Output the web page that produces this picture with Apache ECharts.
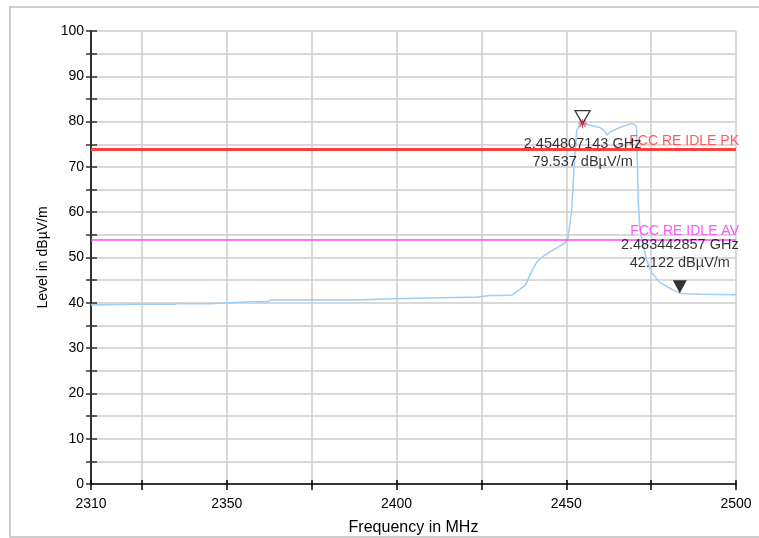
<!DOCTYPE html>
<html>
<head>
<meta charset="utf-8">
<script src="https://cdn.jsdelivr.net/npm/echarts@6/dist/echarts.min.js"></script>
<style>html,body{margin:0;padding:0;background:#fff;overflow:hidden;}#c{width:759px;height:538px;}</style>
</head>
<body>
<div id="c"></div>
<script>
const freqMHz = [2310, 2318, 2325, 2335, 2335.6, 2336.5, 2345, 2348, 2356, 2362, 2363, 2375, 2387.5, 2388, 2399.5, 2400, 2424, 2427.5, 2431, 2434, 2436, 2438, 2439.3, 2440.5, 2441.4, 2442.9, 2445, 2447.6, 2449.6, 2450.5, 2451.6, 2452.3, 2453.1, 2454.0, 2454.807143, 2457, 2459.9, 2461.2, 2462, 2462.9, 2465.8, 2468.8, 2469.7, 2470.7, 2471.2, 2471.7, 2473.7, 2475.2, 2477.7, 2481.5, 2483.442857, 2485.5, 2490, 2500];
const levelDb = [39.5, 39.6, 39.7, 39.7, 39.9, 39.8, 39.8, 39.9, 40.2, 40.3, 40.6, 40.6, 40.6, 40.9, 40.9, 41.3, 41.3, 41.6, 41.6, 41.7, 42.8, 43.9, 46.1, 48.0, 49.0, 50.1, 51.2, 52.3, 53.2, 54.3, 60.5, 70.0, 78.1, 79.2, 79.537, 79.2, 78.7, 78.0, 77.0, 77.7, 78.7, 79.5, 79.5, 79.0, 62.7, 56.0, 49.4, 46.6, 44.4, 42.8, 42.122, 42.0, 41.9, 41.8];
const limitNames = ['FCC RE IDLE PK', 'FCC RE IDLE AV'];
const limitValues = [74, 54];
const markerFreq = [2454.807143, 2483.442857];
const markerLevel = [79.537, 42.122];
const xTickValues = [2310, 2325, 2350, 2375, 2400, 2425, 2450, 2475, 2500];
const xLabelValues = [2310, 2350, 2400, 2450, 2500];

const FONT = "'Liberation Sans', Arial, sans-serif";
const chart = echarts.init(document.getElementById('c'), null, {renderer: 'canvas', width: 759, height: 538});

function mkLabel(i) {
  return (markerFreq[i] / 1000).toFixed(9) + ' GHz\n' + markerLevel[i].toFixed(3) + ' dBµV/m';
}
const asterisk = 'path://M-0.6,-5 L0.6,-5 L0.6,5 L-0.6,5 Z M-5,-0.6 L5,-0.6 L5,0.6 L-5,0.6 Z M-3.9,-3.1 L-3.1,-3.9 L3.9,3.1 L3.1,3.9 Z M3.1,-3.9 L3.9,-3.1 L-3.1,3.9 L-3.9,3.1 Z';

const option = {
  animation: false,
  backgroundColor: '#fff',
  textStyle: {fontFamily: FONT},
  graphic: [{
    type: 'rect', shape: {x: 10, y: 7, width: 760, height: 530},
    style: {fill: 'none', stroke: '#bdbdbd', lineWidth: 1.5}, z: -1
  }],
  grid: {left: 91, top: 31, width: 645, height: 453, containLabel: false, outerBoundsMode: 'none'},
  xAxis: [{
    type: 'value', min: 2310, max: 2500, position: 'bottom',
    name: 'Frequency in MHz', nameLocation: 'middle', nameGap: 36,
    nameTextStyle: {color: '#000', fontSize: 16, fontFamily: FONT},
    axisLine: {show: true, onZero: false, lineStyle: {color: '#000', width: 1.5}},
    axisTick: {show: true, length: 6, customValues: xTickValues, lineStyle: {color: '#000', width: 1.5}},
    axisLabel: {customValues: xLabelValues, color: '#000', fontSize: 14, margin: 13, fontFamily: FONT,
      formatter: v => String(v)},
    splitLine: {show: true, lineStyle: {color: '#cccccc', width: 1.5}}
  }, {
    type: 'value', min: 2310, max: 2500, position: 'bottom',
    axisLine: {show: false},
    axisTick: {show: true, inside: true, length: 4, customValues: xTickValues, lineStyle: {color: '#000', width: 1.5}},
    axisLabel: {show: false},
    splitLine: {show: false}
  }],
  yAxis: [{
    type: 'value', min: 0, max: 100, interval: 5, position: 'left',
    name: 'Level in dBµV/m', nameLocation: 'middle', nameGap: 33,
    nameTextStyle: {color: '#000', fontSize: 14, fontFamily: FONT},
    axisLine: {show: true, onZero: false, lineStyle: {color: '#333', width: 2}},
    axisTick: {show: true, length: 5, lineStyle: {color: '#333', width: 1.5}},
    axisLabel: {color: '#000', fontSize: 14, margin: 7, fontFamily: FONT,
      formatter: v => (v % 10 === 0 ? String(v) : '')},
    splitLine: {show: true, lineStyle: {color: '#cccccc', width: 1.5}}
  }, {
    type: 'value', min: 0, max: 100, interval: 5, position: 'left',
    axisLine: {show: false},
    axisTick: {show: true, inside: true, length: 6, lineStyle: {color: '#333', width: 1.5}},
    axisLabel: {show: false},
    splitLine: {show: false}
  }],
  series: [
    {
      type: 'line', name: 'trace', xAxisIndex: 0, yAxisIndex: 0,
      data: freqMHz.map((f, i) => [f, levelDb[i]]),
      showSymbol: false, symbol: 'none',
      lineStyle: {color: '#9fcdf8', width: 1.5}, z: 3
    },
    {
      type: 'line', name: 'limitPK', data: [],
      markLine: {
        silent: true, symbol: 'none',
        lineStyle: {color: '#ff4040', width: 3, type: 'solid'},
        label: {show: true, position: 'insideEndTop', distance: [-3, 1], formatter: limitNames[0],
          color: '#ff5a5a', fontSize: 14, fontFamily: FONT},
        data: [{yAxis: limitValues[0]}]
      }, z: 2
    },
    {
      type: 'line', name: 'limitAV', data: [],
      markLine: {
        silent: true, symbol: 'none',
        lineStyle: {color: '#ff44ff', width: 1.5, type: 'solid'},
        label: {show: true, position: 'insideEndTop', distance: [-3, 1], formatter: limitNames[1],
          color: '#ff55ff', fontSize: 14, fontFamily: FONT},
        data: [{yAxis: limitValues[1]}]
      }, z: 2
    },
    {
      type: 'scatter', name: 'peakTri',
      data: [[markerFreq[0], markerLevel[0]]],
      symbol: 'triangle', symbolRotate: 180, symbolSize: [15, 13], symbolOffset: [0, -6.5],
      itemStyle: {color: 'rgba(255,255,255,0)', borderColor: '#000', borderWidth: 1.3}, z: 5
    },
    {
      type: 'scatter', name: 'peakStar',
      data: [[markerFreq[0], markerLevel[0]]],
      symbol: asterisk, symbolSize: 9,
      itemStyle: {color: '#e8202a'}, z: 6
    },
    {
      type: 'scatter', name: 'peakLabel',
      data: [[markerFreq[0], markerLevel[0]]],
      symbolSize: 0,
      label: {show: true, position: 'bottom', distance: 11, formatter: () => mkLabel(0),
        color: '#000', fontSize: 14.5, lineHeight: 18, align: 'center', fontFamily: FONT}, z: 7
    },
    {
      type: 'scatter', name: 'edgeTri',
      data: [[markerFreq[1], markerLevel[1]]],
      symbol: 'triangle', symbolRotate: 180, symbolSize: [14, 13], symbolOffset: [0, -6.5],
      itemStyle: {color: '#000'}, z: 5
    },
    {
      type: 'scatter', name: 'edgeLabel',
      data: [[markerFreq[1], markerLevel[1]]],
      symbolSize: 0,
      label: {show: true, position: 'top', distance: 21, formatter: () => mkLabel(1),
        color: '#000', fontSize: 14.5, lineHeight: 18, align: 'center', fontFamily: FONT}, z: 7
    }
  ]
};
chart.setOption(option);
</script>
</body>
</html>
